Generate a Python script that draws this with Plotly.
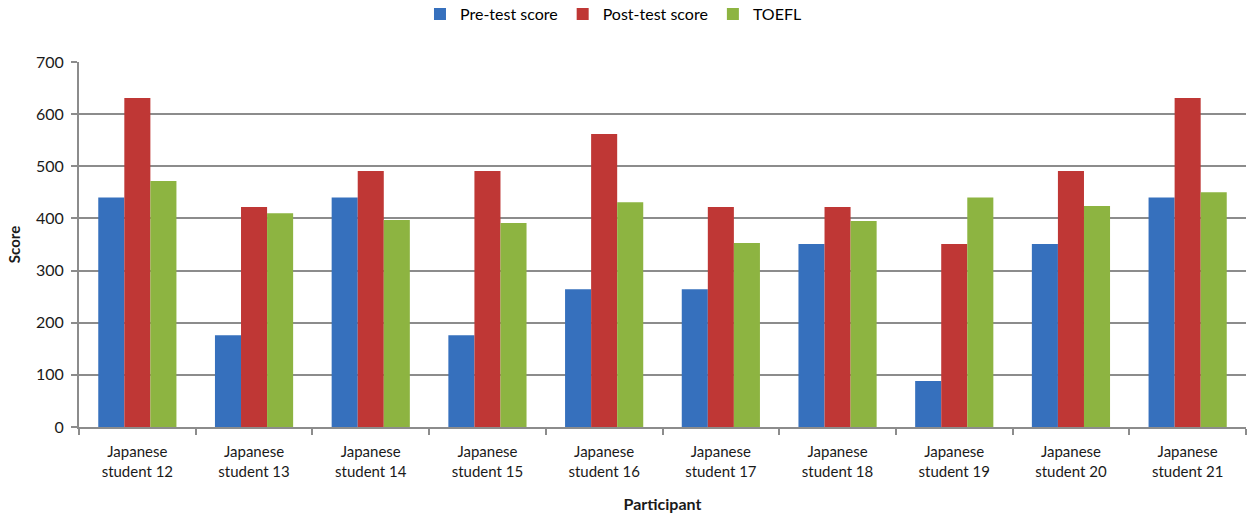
import plotly.graph_objects as go

participants = [
    "Japanese<br>student 12", "Japanese<br>student 13", "Japanese<br>student 14",
    "Japanese<br>student 15", "Japanese<br>student 16", "Japanese<br>student 17",
    "Japanese<br>student 18", "Japanese<br>student 19", "Japanese<br>student 20",
    "Japanese<br>student 21",
]
pre_test = [440, 176, 440, 176, 264, 264, 351, 88, 351, 440]
post_test = [631, 422, 491, 491, 562, 422, 422, 351, 491, 631]
toefl = [472, 410, 397, 391, 431, 353, 395, 440, 424, 450]

y_ticks = [0, 100, 200, 300, 400, 500, 600, 700]

series = [
    ("Pre-test score", pre_test, "#3670bd"),
    ("Post-test score", post_test, "#bf3735"),
    ("TOEFL", toefl, "#8db441"),
]

font_family = "Lato, Carlito, Calibri, sans-serif"

fig = go.Figure()
for name, values, color in series:
    fig.add_trace(go.Bar(
        name=name,
        x=participants,
        y=values,
        marker=dict(color=color, line=dict(width=0)),
    ))

fig.update_layout(
    width=1247,
    height=518,
    barmode="group",
    bargap=0.33,
    bargroupgap=0,
    plot_bgcolor="white",
    paper_bgcolor="white",
    margin=dict(l=79, r=1, t=62, b=91, autoexpand=False),
    font=dict(family=font_family, size=15, color="#1a1a1a"),
    legend=dict(
        orientation="h",
        x=0.458,
        xanchor="center",
        y=1.131,
        yanchor="middle",
        font=dict(size=16, color="#000000"),
        itemwidth=30,
        tracegroupgap=0,
    ),
    xaxis=dict(
        title=dict(text="<b>Participant</b>", font=dict(size=16), standoff=20),
        showline=True,
        linecolor="#8c8c8c",
        linewidth=2,
        ticks="outside",
        tickson="boundaries",
        ticklen=6,
        tickcolor="#8c8c8c",
        tickwidth=2,
        tickfont=dict(size=15),
        ticklabelstandoff=10,
        showgrid=False,
    ),
    yaxis=dict(
        title=dict(text="<b>Score</b>", font=dict(size=15), standoff=12),
        range=[0, 700],
        tickvals=y_ticks,
        showline=True,
        linecolor="#8c8c8c",
        linewidth=2,
        ticks="outside",
        ticklen=6,
        tickcolor="#8c8c8c",
        tickwidth=2,
        tickfont=dict(size=16),
        ticklabelstandoff=4,
        showgrid=True,
        gridcolor="#8c8c8c",
        gridwidth=2,
        zeroline=False,
    ),
)

fig.write_html("out.html")
